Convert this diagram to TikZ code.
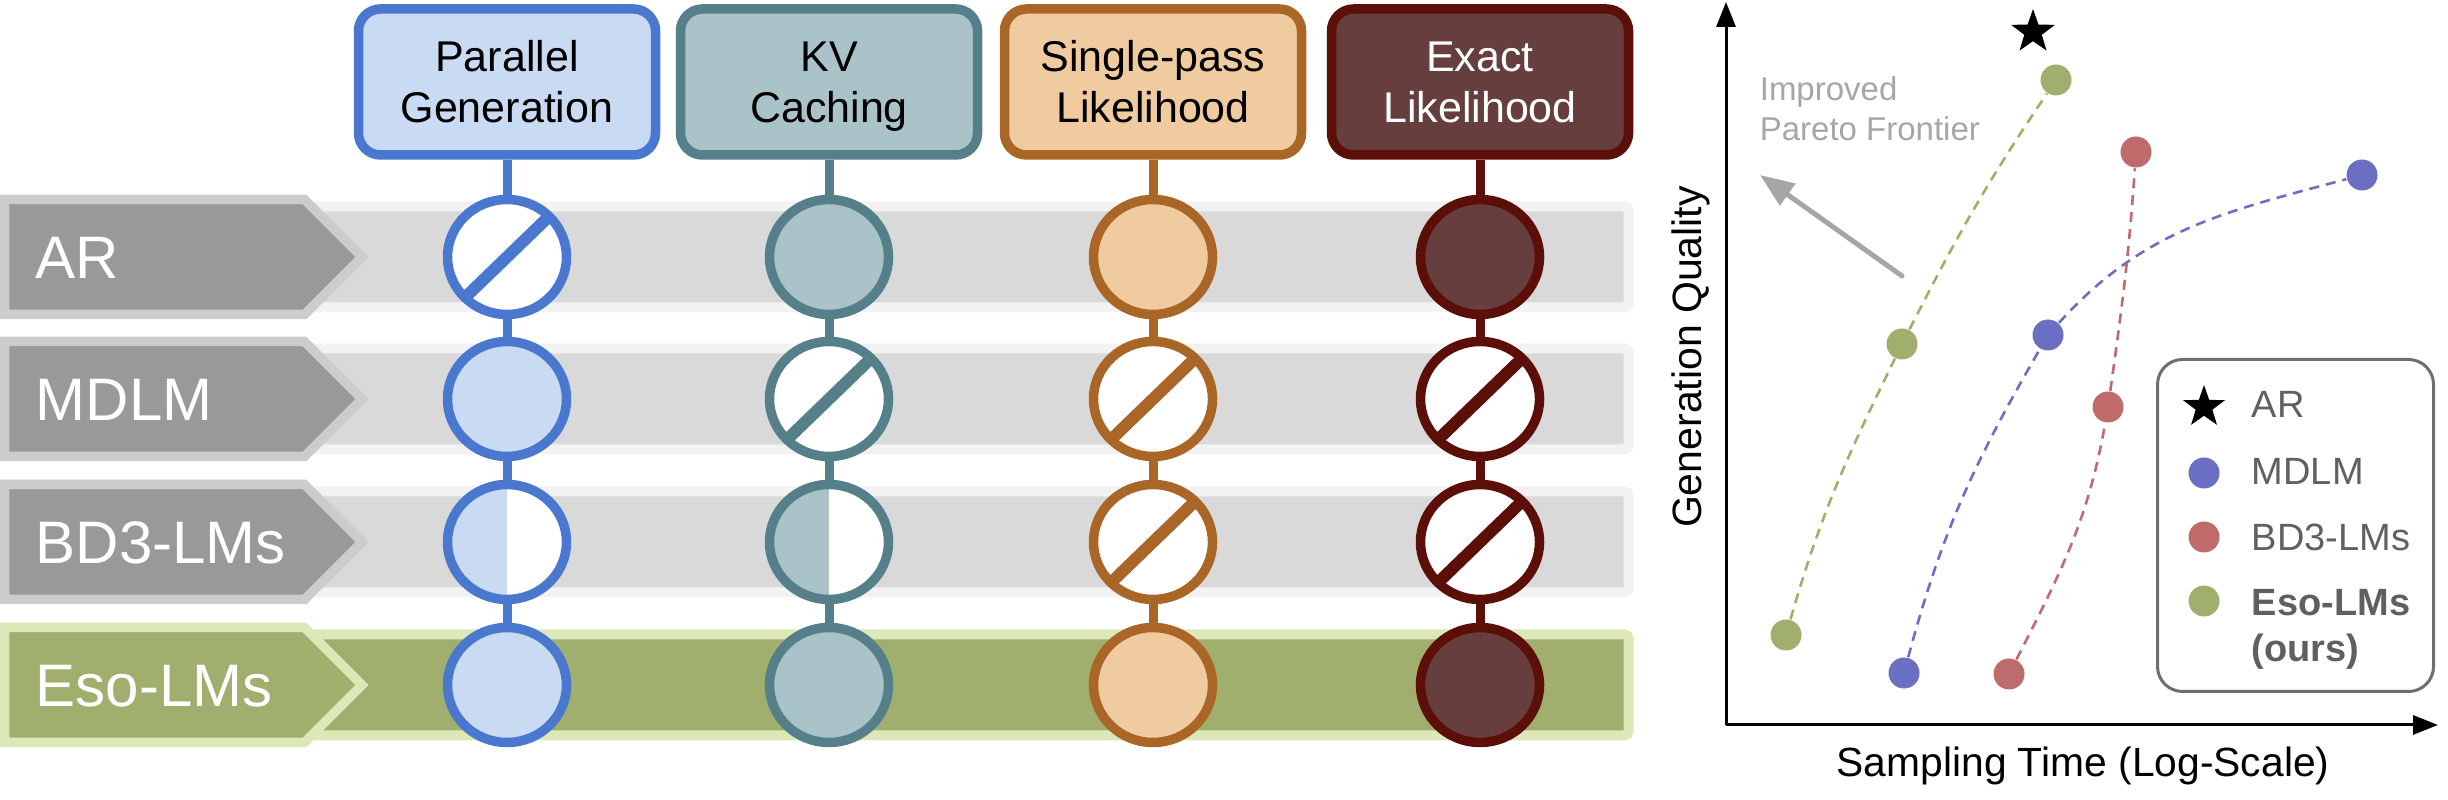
\documentclass[tikz,border=0pt]{standalone}
\usepackage{fontspec}
\setmainfont{Liberation Sans}
\usetikzlibrary{shapes.geometric,arrows.meta}
\definecolor{pgB}{HTML}{4A78CF}
\definecolor{pgF}{HTML}{C9DAF3}
\definecolor{kvB}{HTML}{55808A}
\definecolor{kvF}{HTML}{A9C3C8}
\definecolor{spB}{HTML}{AA6626}
\definecolor{spF}{HTML}{F1CBA0}
\definecolor{exB}{HTML}{5C0F08}
\definecolor{exF}{HTML}{663E3E}
\definecolor{grIn}{HTML}{D9D9D9}
\definecolor{grOut}{HTML}{F2F2F2}
\definecolor{lbIn}{HTML}{999999}
\definecolor{lbOut}{HTML}{CCCCCC}
\definecolor{esIn}{HTML}{A0AF6E}
\definecolor{esOut}{HTML}{DDE8B9}
\definecolor{dG}{HTML}{A0AF6E}
\definecolor{dB}{HTML}{6B6FC3}
\definecolor{dR}{HTML}{BF6B6B}
\definecolor{grayA}{HTML}{A6A6A6}
\definecolor{legB}{HTML}{6E6E6E}
\definecolor{legT}{HTML}{606060}
\begin{document}
\begin{tikzpicture}[x=0.25pt,y=0.25pt,
  hdr/.style={rectangle, rounded corners=5.5pt, line width=2.375pt,
    minimum width=74.25pt, minimum height=36.5pt, inner sep=0pt, align=center,
    font=\fontsize{10.75}{12.75}\selectfont, text height=20.5pt, text depth=0pt,
    draw=#1B, fill=#1F},
  circ/.style={ellipse, minimum width=29.75pt, minimum height=28.75pt, inner sep=0pt, line width=2.375pt},
  full/.style={circ, draw=#1B, fill=#1F},
  nope/.style={circ, draw=#1B, fill=white, path picture={\draw[line width=3pt,#1B] (path picture bounding box.south west) -- (path picture bounding box.north east);}},
  half/.style={circ, draw=#1B, fill=white, path picture={\fill[#1F] (path picture bounding box.south west) rectangle (path picture bounding box.north);}},
  stemline/.style={line width=2.25pt, draw=#1B},
  bandsty/.style={line width=2.5pt, draw=#1Out, fill=#1In, rounded corners=1pt},
  labsty/.style={line width=2.375pt, draw=#1Out, fill=#1In, miter limit=10},
  labtxt/.style={text=white, font=\fontsize{15}{18}\selectfont, inner sep=0pt, anchor=base west},
  pdot/.style={circle, inner sep=0pt, minimum size=7.75pt, fill=#1},
  dashcurve/.style={dash pattern=on 2.5pt off 1.75pt, line width=0.65pt, draw=#1},
  axisline/.style={line width=0.75pt, -{Triangle[length=6.25pt,width=4.75pt]}},
  starsty/.style={star, star points=5, star point ratio=2.5, fill=black, inner sep=0pt, minimum size=#1},
  legtxt/.style={text=legT, font=\fontsize{9.5}{11}\selectfont, inner sep=0pt, anchor=base west}
]
\useasboundingbox (0,0) rectangle (2448,800);

% row bands
\foreach \r in {543,401,258}
  \draw[bandsty=gr] (250,\r-50.5) rectangle (1628.5,\r+50.5);
\draw[bandsty=es] (250,115-50.5) rectangle (1628.5,115+50.5);

% row labels
\foreach \r in {543,401,258}
  \draw[labsty=lb] (4.5,\r+57.5) -- (304.5,\r+57.5) -- (362,\r) -- (304.5,\r-57.5) -- (4.5,\r-57.5) -- cycle;
\draw[labsty=es] (4.5,115+57.5) -- (304.5,115+57.5) -- (362,115) -- (304.5,115-57.5) -- (4.5,115-57.5) -- cycle;
\node[labtxt] (lAR) at (35,521) {AR};
\node[labtxt] (lMD) at (35,379) {MDLM};
\node[labtxt] (lBD) at (35,236) {BD3-LMs};
\node[labtxt] (lES) at (35,93) {Eso-LMs};

% headers
\node[hdr=pg] (h1) at (507,718) {Parallel\\Generation};
\node[hdr=kv] (h2) at (829,718) {KV\\Caching};
\node[hdr=sp] (h3) at (1153,718) {Single-pass\\Likelihood};
\node[hdr=ex, text=white] (h4) at (1480,718) {Exact\\Likelihood};

% circles
\node[nope=pg] (c11) at (507,543) {};
\node[full=pg] (c12) at (507,401) {};
\node[half=pg] (c13) at (507,258) {};
\node[full=pg] (c14) at (507,115) {};
\node[full=kv] (c21) at (829,543) {};
\node[nope=kv] (c22) at (829,401) {};
\node[half=kv] (c23) at (829,258) {};
\node[full=kv] (c24) at (829,115) {};
\node[full=sp] (c31) at (1153,543) {};
\node[nope=sp] (c32) at (1153,401) {};
\node[nope=sp] (c33) at (1153,258) {};
\node[full=sp] (c34) at (1153,115) {};
\node[full=ex] (c41) at (1480,543) {};
\node[nope=ex] (c42) at (1480,401) {};
\node[nope=ex] (c43) at (1480,258) {};
\node[full=ex] (c44) at (1480,115) {};

% stems
\foreach \c/\k in {1/pg,2/kv,3/sp,4/ex}{
  \draw[stemline=\k] (h\c.south) -- (c\c1.north);
  \draw[stemline=\k] (c\c1.south) -- (c\c2.north);
  \draw[stemline=\k] (c\c2.south) -- (c\c3.north);
  \draw[stemline=\k] (c\c3.south) -- (c\c4.north);
}

% plot axes
\coordinate (O) at (1726,75);
\coordinate (Yt) at (1726,798);
\coordinate (Xt) at (2438,75);
\draw[axisline] (O) -- (Yt);
\draw[axisline] (O) -- (Xt);
\node[rotate=90, anchor=base, inner sep=0pt, font=\fontsize{10.25}{12}\selectfont] (ylab) at (1701,443) {Generation Quality};
\node[anchor=base, inner sep=0pt, font=\fontsize{10.2}{12}\selectfont] (xlab) at (2083,23) {Sampling Time (Log-Scale)};

% pareto hint
\node[anchor=north west, inner sep=0pt, align=left, text=grayA, font=\fontsize{8.25}{10}\selectfont, text height=16pt, text depth=0pt] (pf) at (1759,724) {Improved\\Pareto Frontier};
\coordinate (pfs) at (1902,524);
\coordinate (pft) at (1760,625);
\draw[grayA, line width=1.25pt, line cap=round, -{Triangle[length=8.5pt,width=6.5pt]}] (pfs) -- (pft);

% data points
\node[starsty=11.5pt] (sAR) at (2033,768) {};
\node[pdot=dG] (g1) at (1786,165) {};
\node[pdot=dG] (g2) at (1902,456) {};
\node[pdot=dG] (g3) at (2056,720) {};
\node[pdot=dB] (b1) at (1904,127) {};
\node[pdot=dB] (b2) at (2048,465) {};
\node[pdot=dB] (b3) at (2362,625) {};
\node[pdot=dR] (r1) at (2009,126) {};
\node[pdot=dR] (r2) at (2108,393) {};
\node[pdot=dR] (r3) at (2136,648) {};
\draw[dashcurve=dG] (g1) to[out=74,in=244] (g2);
\draw[dashcurve=dG] (g2) to[out=63,in=236] (g3);
\draw[dashcurve=dB] (b1) to[out=75,in=240] (b2);
\draw[dashcurve=dB] (b2) to[out=48,in=195] (b3);
\draw[dashcurve=dR] (r1) to[out=63,in=260] (r2);
\draw[dashcurve=dR] (r2) to[out=82,in=266] (r3);

% legend
\node[draw=legB, line width=0.75pt, rounded corners=6.25pt, minimum width=69pt, minimum height=83pt, inner sep=0pt] (legend) at (2295.5,274.5) {};
\node[starsty=11pt] (kAR) at (2204,393) {};
\node[pdot=dB] (kMD) at (2204,327) {};
\node[pdot=dR] (kBD) at (2204,263) {};
\node[pdot=dG] (kES) at (2204,199) {};
\node[legtxt] (tAR) at (2251,382) {AR};
\node[legtxt] (tMD) at (2251,315) {MDLM};
\node[legtxt] (tBD) at (2251,249) {BD3-LMs};
\node[legtxt, font=\fontsize{9.5}{11}\selectfont\bfseries] (tES) at (2251,184) {Eso-LMs};
\node[legtxt, font=\fontsize{9.5}{11}\selectfont\bfseries] (tOU) at (2251,138) {(ours)};
\end{tikzpicture}
\end{document}
